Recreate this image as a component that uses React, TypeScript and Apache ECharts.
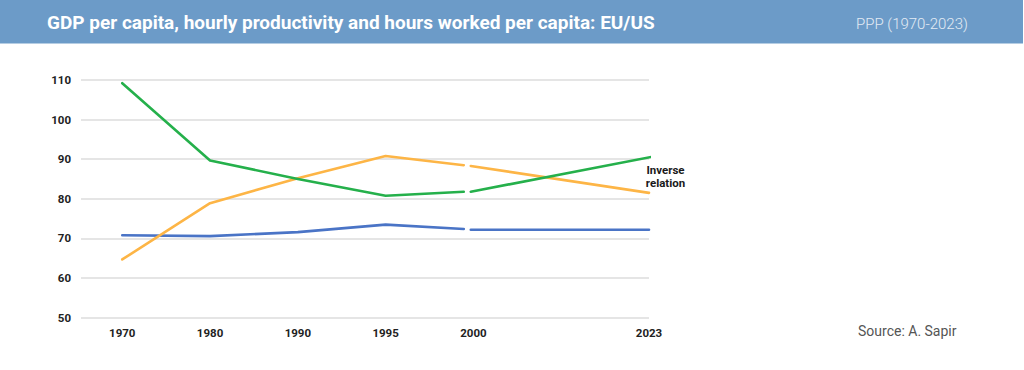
import React, { useEffect, useRef } from "react";
import * as echarts from "echarts";

// Category labels on the x axis and their slot positions (2023 sits two slots after 2000)
const yearLabels = ["1970", "1980", "1990", "1995", "2000", "2023"];
const yearSlots = [0, 1, 2, 3, 4, 6];

// Positions of the two data segments (break around 2000)
const segAX = [0, 1, 2, 3, 3.89];
const segBX = [3.97, 6];
const segBXGreen = [3.97, 6.08];

// Series values (EU as % of US)
const gdpPerCapitaA = [70.8, 70.6, 71.6, 73.5, 72.4];
const gdpPerCapitaB = [72.2, 72.2];
const productivityA = [64.7, 78.9, 85.2, 90.8, 88.5];
const productivityB = [88.3, 81.5];
const hoursWorkedA = [109.2, 89.7, 85.0, 80.8, 81.8];
const hoursWorkedB = [81.8, 90.8];

const yTicks = [50, 60, 70, 80, 90, 100, 110];

const BLUE = "#4a74c6";
const ORANGE = "#fdb546";
const GREEN = "#25b04b";
const FONT = "Roboto, 'Noto Sans', sans-serif";

const zip = (xs: number[], ys: number[]) => xs.map((x, i) => [x, ys[i]]);

export default function App() {
  const ref = useRef<HTMLDivElement>(null);

  useEffect(() => {
    if (!ref.current) return;
    document.body.style.margin = "0";
    const chart = echarts.init(ref.current, undefined, { renderer: "svg" });

    const line = (name: string, data: number[][], color: string) => ({
      name,
      type: "line",
      data,
      symbol: "none",
      smooth: false,
      lineStyle: { color, width: 2.6, cap: "round", join: "round" },
      z: 3,
    });

    chart.setOption({
      animation: false,
      backgroundColor: "#ffffff",
      grid: { left: 81, right: 375, top: 80, bottom: 52.3, containLabel: false },
      xAxis: {
        type: "value",
        min: -0.47,
        max: 6,
        axisLine: { show: false },
        axisTick: { show: false },
        splitLine: { show: false },
        axisLabel: {
          customValues: yearSlots,
          formatter: (v: number) => {
            const i = yearSlots.indexOf(Math.round(v));
            return i >= 0 ? yearLabels[i] : "";
          },
          margin: 9,
          color: "#222",
          fontWeight: "bold",
          fontSize: 11.5,
          fontFamily: FONT,
        },
      },
      yAxis: {
        type: "value",
        min: yTicks[0],
        max: yTicks[yTicks.length - 1],
        interval: 10,
        axisLine: { show: false },
        axisTick: { show: false },
        splitLine: { show: true, lineStyle: { color: "#dcdcdc", width: 1.5 } },
        axisLabel: {
          margin: 10,
          color: "#222",
          fontWeight: "bold",
          fontSize: 11.5,
          fontFamily: FONT,
        },
      },
      series: [
        line("GDP per capita", zip(segAX, gdpPerCapitaA), BLUE),
        line("GDP per capita ", zip(segBX, gdpPerCapitaB), BLUE),
        line("Hourly productivity", zip(segAX, productivityA), ORANGE),
        line("Hourly productivity ", zip(segBX, productivityB), ORANGE),
        line("Hours worked per capita", zip(segAX, hoursWorkedA), GREEN),
        line("Hours worked per capita ", zip(segBXGreen, hoursWorkedB), GREEN),
      ],
      graphic: [
        {
          type: "rect",
          shape: { x: 0, y: 0, width: 1023, height: 43.5 },
          style: { fill: "#6c9bc8" },
          z: 0,
        },
        {
          type: "text",
          x: 47,
          y: 22.5,
          style: {
            text: "GDP per capita, hourly productivity and hours worked per capita: EU/US",
            fill: "#ffffff",
            font: `bold 19px ${FONT}`,
            verticalAlign: "middle",
            align: "left",
          },
        },
        {
          type: "text",
          x: 856,
          y: 23.5,
          style: {
            text: "PPP (1970-2023)",
            fill: "#e3ebf4",
            font: `300 15px ${FONT}`,
            verticalAlign: "middle",
            align: "left",
          },
        },
        {
          type: "text",
          x: 665.5,
          y: 170,
          style: {
            text: "Inverse",
            fill: "#1a1a1a",
            font: `bold 11.5px ${FONT}`,
            lineHeight: 12,
            verticalAlign: "middle",
            align: "center",
          },
        },
        {
          type: "text",
          x: 665.5,
          y: 182.5,
          style: {
            text: "relation",
            fill: "#1a1a1a",
            font: `bold 11.5px ${FONT}`,
            lineHeight: 12,
            verticalAlign: "middle",
            align: "center",
          },
        },
        {
          type: "text",
          x: 858,
          y: 331,
          style: {
            text: "Source: A. Sapir",
            fill: "#555555",
            font: `14px ${FONT}`,
            verticalAlign: "middle",
            align: "left",
          },
        },
      ],
    });

    return () => chart.dispose();
  }, []);

  return (
    <div
      ref={ref}
      style={{ position: "absolute", left: 0, top: 0, width: 1024, height: 370 }}
    />
  );
}
